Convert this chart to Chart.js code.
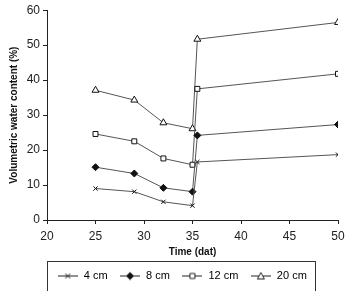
<!DOCTYPE html>
<html>
<head>
<meta charset="utf-8">
<script src="https://cdn.jsdelivr.net/npm/chart.js@4/dist/chart.umd.min.js"></script>
<style>
  html, body { margin: 0; padding: 0; background: #fff; }
  #wrap { width: 352px; height: 291px; }
</style>
</head>
<body>
<div id="wrap"><canvas id="myChart" width="352" height="291"></canvas></div>
<script>
const days = [25, 29, 32, 35, 35.5, 50];
const cm4 = [9.0, 8.1, 5.2, 4.1, 16.6, 18.7];
const cm8 = [15.1, 13.3, 9.2, 8.1, 24.2, 27.3];
const cm12 = [24.6, 22.5, 17.6, 15.8, 37.5, 41.8];
const cm20 = [37.1, 34.3, 27.8, 26.1, 51.7, 56.5];
const seriesNames = ["4 cm", "8 cm", "12 cm", "20 cm"];

const FONT = "'Liberation Sans Narrow', 'Arial Narrow', 'Liberation Sans', Arial, sans-serif";
const LINE = "#555";

function toPoints(vals) {
  return vals.map((v, i) => ({x: days[i], y: v}));
}

// small picture of line + marker for the legend
function legendIcon(style, fill) {
  const c = document.createElement('canvas');
  c.width = 20; c.height = 10;
  const g = c.getContext('2d');
  g.strokeStyle = '#222';
  g.lineWidth = 1;
  g.beginPath(); g.moveTo(0, 5.5); g.lineTo(20, 5.5); g.stroke();
  g.fillStyle = fill;
  g.beginPath();
  if (style === 'cross') {
    g.moveTo(7.5, 3); g.lineTo(12.5, 8); g.moveTo(12.5, 3); g.lineTo(7.5, 8);
    g.stroke();
  } else if (style === 'diamond') {
    g.moveTo(10, 1.5); g.lineTo(14, 5.5); g.lineTo(10, 9.5); g.lineTo(6, 5.5); g.closePath();
    g.fill();
  } else if (style === 'square') {
    g.rect(7.5, 3, 5, 5); g.fill(); g.stroke();
  } else {
    g.moveTo(10, 2); g.lineTo(13.5, 8.5); g.lineTo(6.5, 8.5); g.closePath();
    g.fill(); g.stroke();
  }
  return c;
}

const icons = [
  legendIcon('cross', '#222'),
  legendIcon('diamond', '#111'),
  legendIcon('square', '#fff'),
  legendIcon('triangle', '#fff')
];

function ds(label, vals, style, radius, bg) {
  return {
    label: label,
    data: toPoints(vals),
    borderColor: LINE,
    borderWidth: 1,
    pointStyle: style,
    pointRadius: radius,
    pointBackgroundColor: bg,
    pointBorderColor: '#111',
    pointBorderWidth: 1,
    fill: false,
    tension: 0
  };
}

// shift legend a bit right, then frame it like the original
const LEGEND_SHIFT = 11;
const legendBox = {
  id: 'legendBox',
  afterLayout(chart) {
    const lg = chart.legend;
    lg.left += LEGEND_SHIFT;
    lg.right += LEGEND_SHIFT;
    (lg.legendHitBoxes || []).forEach(b => { b.left += LEGEND_SHIFT; });
  },
  afterDraw(chart) {
    const boxes = chart.legend.legendHitBoxes;
    if (!boxes || !boxes.length) return;
    const left = Math.min(...boxes.map(b => b.left)) - 10;
    const right = Math.max(...boxes.map(b => b.left + b.width)) + 8;
    const top = Math.min(...boxes.map(b => b.top)) - 9;
    const ctx = chart.ctx;
    ctx.save();
    ctx.strokeStyle = '#333';
    ctx.lineWidth = 1;
    ctx.strokeRect(Math.round(left) + 0.5, Math.round(top) + 0.5, Math.round(right - left), 60);
    ctx.restore();
  }
};

new Chart("myChart", {
  type: "line",
  data: {
    datasets: [
      ds(seriesNames[0], cm4, 'crossRot', 3, '#111'),
      ds(seriesNames[1], cm8, 'rectRot', 3.5, '#111'),
      ds(seriesNames[2], cm12, 'rect', 3.5, '#fff'),
      ds(seriesNames[3], cm20, 'triangle', 4, '#fff')
    ]
  },
  options: {
    responsive: false,
    animation: false,
    layout: {padding: {left: 4, right: 14, top: 10, bottom: 0}},
    plugins: {
      tooltip: {enabled: false},
      legend: {
        position: 'bottom',
        labels: {
          usePointStyle: true,
          pointStyleWidth: 21,
          boxHeight: 10,
          padding: 12,
          color: '#222',
          font: {family: FONT, size: 11},
          generateLabels(chart) {
            return chart.data.datasets.map((d, i) => ({
              text: d.label,
              pointStyle: icons[i],
              fillStyle: '#fff',
              strokeStyle: '#222',
              lineWidth: 0,
              datasetIndex: i,
              hidden: false
            }));
          }
        }
      }
    },
    scales: {
      x: {
        type: 'linear',
        min: 20,
        max: 50,
        afterFit(scale) { scale.height = 38; },
        ticks: {stepSize: 5, color: '#222', font: {family: FONT, size: 12}, padding: 5},
        grid: {drawOnChartArea: false, tickLength: 4, color: '#222'},
        border: {color: '#222'},
        title: {display: true, text: 'Time (dat)', color: '#111', font: {family: FONT, size: 10, weight: 'bold'}, padding: {top: 2, bottom: 0}}
      },
      y: {
        min: 0,
        max: 60,
        afterFit(scale) { scale.width = 43; },
        ticks: {stepSize: 10, color: '#222', font: {family: FONT, size: 12}, padding: 3},
        grid: {drawOnChartArea: false, tickLength: 4, color: '#222'},
        border: {color: '#222'},
        title: {display: true, text: 'Volumetric water content (%)', color: '#111', font: {family: FONT, size: 10, weight: 'bold'}, padding: {top: 4, bottom: 2}}
      }
    }
  },
  plugins: [legendBox]
});
</script>
</body>
</html>
